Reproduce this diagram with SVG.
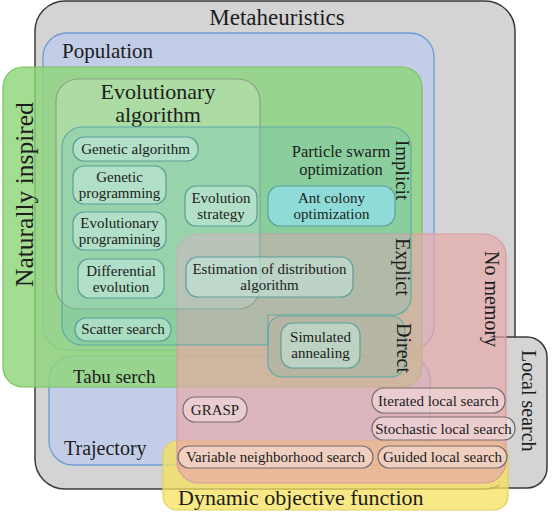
<svg xmlns="http://www.w3.org/2000/svg" width="553" height="512" viewBox="0 0 553 512" font-family="'Liberation Serif', 'DejaVu Serif', serif">
<style>
text{font-family:'Liberation Serif','DejaVu Serif',serif;fill:#1c1c1c}
.t15{font-size:15px}
.mid{text-anchor:middle}
.bt{fill:#c4eadf;fill-opacity:.55;stroke:#5b9f98;stroke-width:1.2}
.bp{fill:#f7e6e6;fill-opacity:.5;stroke:#7a6d6d;stroke-width:1.2}
.dark{stroke:#3a3a3a;stroke-width:1.5}
.blue{fill:#c3cde8;stroke:#6d9dd3;stroke-width:1.3}
.teal{stroke:#5eaaa8;stroke-width:1.2}
</style>
<rect width="553" height="512" fill="#fff"/>

<g id="metaheuristics">
<rect x="35" y="1" width="480" height="488" rx="30" fill="#d4d4d4" class="dark"/>
<text x="277" y="25" class="mid" font-size="23">Metaheuristics</text>
</g>

<g id="local-search">
<rect x="490" y="337" width="57" height="151" rx="20" fill="#d4d4d4"/>
<path d="M490 337 H527 A20 20 0 0 1 547 357 V468 A20 20 0 0 1 527 488 H490" fill="none" class="dark"/>
<text transform="translate(522,350) rotate(90)" font-size="20">Local search</text>
</g>

<g id="population">
<rect x="43" y="33" width="391" height="317" rx="24" class="blue"/>
<text x="62" y="58" font-size="21">Population</text>
</g>

<g id="trajectory">
<rect x="49" y="356" width="381" height="109" rx="24" class="blue"/>
<text x="64" y="455" font-size="20">Trajectory</text>
</g>

<g id="naturally-inspired">
<rect x="3" y="67" width="419" height="320" rx="20" fill="#8fd67a" fill-opacity=".82" stroke="#78c064" stroke-width="1.2"/>
<text transform="translate(33,287) rotate(-90)" font-size="25.5">Naturally inspired</text>
</g>

<g id="tabu-search">
<text x="73" y="383" font-size="19">Tabu serch</text>
</g>

<g id="dynamic-objective-function">
<rect x="163" y="441" width="345" height="69" rx="14" fill="#f6e25e" fill-opacity=".75" stroke="#e3cf5c" stroke-width="1.2"/>
<text x="178" y="505" font-size="22">Dynamic objective function</text>
</g>

<g id="no-memory">
<rect x="177" y="234" width="329" height="249" rx="22" fill="#e8a8a8" fill-opacity=".68" stroke="#d99a9a" stroke-width="1.2"/>
<text transform="translate(485,251) rotate(90)" font-size="20">No memory</text>
</g>

<g id="evolutionary-algorithm">
<rect x="56" y="79" width="204" height="230" rx="22" fill="#ffffff" fill-opacity=".2" stroke="#8d9f88" stroke-width="1.2"/>
<text x="158" y="99" class="mid" font-size="22">Evolutionary</text>
<text x="158" y="122" class="mid" font-size="22">algorithm</text>
</g>

<g id="implicit-explicit">
<path d="M82 127 H391 A20 20 0 0 1 411 147 V297 A18 18 0 0 1 393 315 H268 V345 H82 A20 20 0 0 1 62 325 V147 A20 20 0 0 1 82 127 Z" fill="#6cc0c0" fill-opacity=".3" class="teal"/>
<text transform="translate(396,140) rotate(90)" font-size="19">Implicit</text>
<text transform="translate(396,238) rotate(90)" font-size="20">Explict</text>
<text x="341" y="157" class="mid" font-size="16.5">Particle swarm</text>
<text x="341" y="175" class="mid" font-size="16.5">optimization</text>
</g>

<g id="direct">
<rect x="268" y="316" width="137" height="61" rx="14" fill="#5fb3b0" fill-opacity=".2" class="teal"/>
<text transform="translate(397,323) rotate(90)" font-size="20">Direct</text>
</g>

<g id="genetic-algorithm">
<rect x="73" y="137" width="125" height="24" rx="11" class="bt"/>
<text x="135.5" y="154" class="mid t15">Genetic algorithm</text>
</g>
<g id="genetic-programming">
<rect x="73" y="166" width="93" height="38" rx="11" class="bt"/>
<text x="119.5" y="182" class="mid t15">Genetic</text>
<text x="119.5" y="198" class="mid t15">programming</text>
</g>
<g id="evolutionary-programming">
<rect x="73" y="212" width="93" height="38" rx="11" class="bt"/>
<text x="119.5" y="228" class="mid t15">Evolutionary</text>
<text x="119.5" y="244" class="mid t15">programining</text>
</g>
<g id="evolution-strategy">
<rect x="185" y="186" width="72" height="40" rx="11" class="bt"/>
<text x="221" y="203" class="mid t15">Evolution</text>
<text x="221" y="219" class="mid t15">strategy</text>
</g>
<g id="differential-evolution">
<rect x="78" y="259" width="86" height="39" rx="11" class="bt"/>
<text x="121" y="275.5" class="mid t15">Differential</text>
<text x="121" y="291.5" class="mid t15">evolution</text>
</g>
<g id="scatter-search">
<rect x="75" y="318" width="96" height="23" rx="11" class="bt"/>
<text x="123" y="334" class="mid t15">Scatter search</text>
</g>
<g id="ant-colony-optimization">
<rect x="268" y="186" width="127" height="40" rx="12" fill="#8edbd8" stroke="#5b9f98" stroke-width="1.2"/>
<text x="331.5" y="203" class="mid t15">Ant colony</text>
<text x="331.5" y="219" class="mid t15">optimization</text>
</g>
<g id="estimation-of-distribution-algorithm">
<rect x="186" y="257" width="167" height="40" rx="12" class="bt"/>
<text x="269.5" y="274" class="mid t15">Estimation of distribution</text>
<text x="269.5" y="290" class="mid t15">algorithm</text>
</g>
<g id="simulated-annealing">
<rect x="281" y="323" width="79" height="45" rx="12" class="bt"/>
<text x="320.5" y="342" class="mid t15">Simulated</text>
<text x="320.5" y="358" class="mid t15">annealing</text>
</g>
<g id="grasp">
<rect x="183" y="397" width="64" height="25" rx="12" class="bp"/>
<text x="215" y="415" class="mid t15">GRASP</text>
</g>
<g id="iterated-local-search">
<rect x="372" y="388" width="133" height="25" rx="12" class="bp"/>
<text x="438.5" y="406" class="mid t15">Iterated local search</text>
</g>
<g id="stochastic-local-search">
<rect x="372" y="417" width="143" height="23" rx="11" class="bp"/>
<text x="443.5" y="434" class="mid t15">Stochastic local search</text>
</g>
<g id="variable-neighborhood-search">
<rect x="178" y="446" width="195" height="22" rx="11" class="bp"/>
<text x="275.5" y="462" class="mid t15">Variable neighborhood search</text>
</g>
<g id="guided-local-search">
<rect x="378" y="446" width="129" height="22" rx="11" class="bp"/>
<text x="442.5" y="462" class="mid t15">Guided local search</text>
</g>
</svg>
